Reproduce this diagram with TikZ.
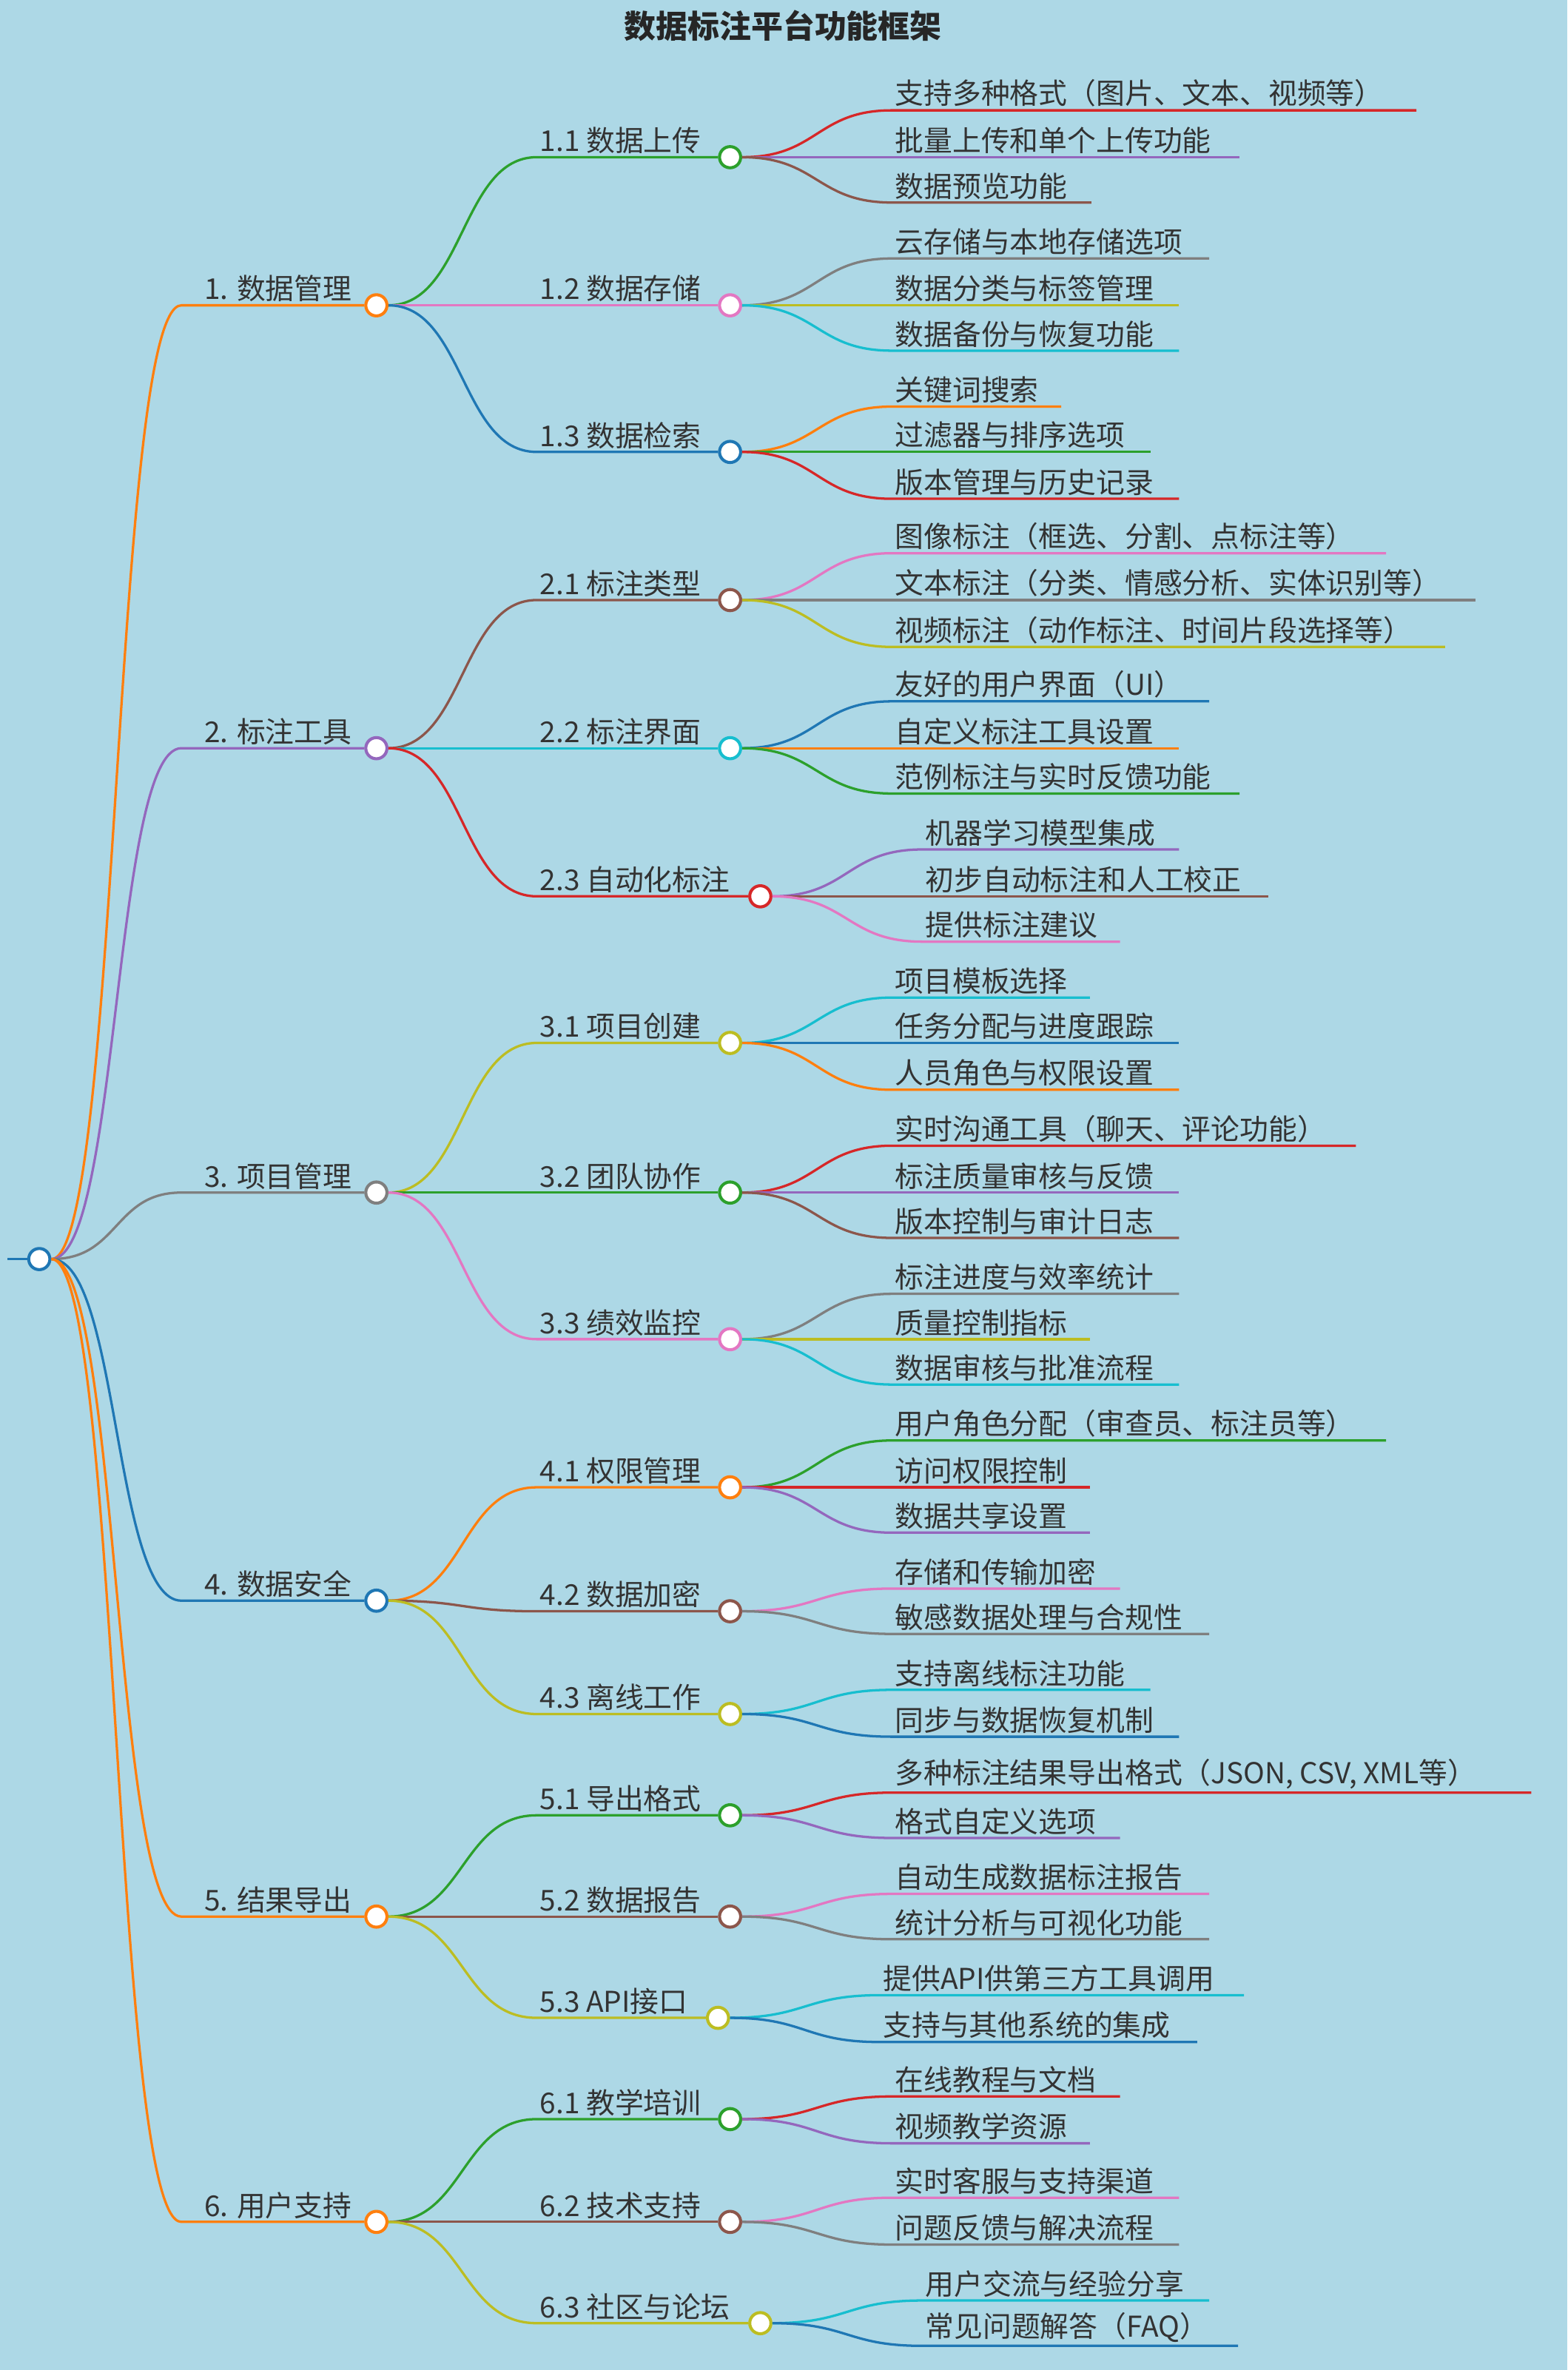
\documentclass[tikz,border=0pt]{standalone}
\usepackage{fontspec}
\setmainfont{Noto Sans CJK SC}
\usetikzlibrary{calc}
\definecolor{mmBlue}{HTML}{1F77B4}
\definecolor{mmOrange}{HTML}{FF7F0E}
\definecolor{mmGreen}{HTML}{2CA02C}
\definecolor{mmRed}{HTML}{D62728}
\definecolor{mmPurple}{HTML}{9467BD}
\definecolor{mmBrown}{HTML}{8C564B}
\definecolor{mmPink}{HTML}{E377C2}
\definecolor{mmGray}{HTML}{7F7F7F}
\definecolor{mmOlive}{HTML}{BCBD22}
\definecolor{mmCyan}{HTML}{17BECF}
\definecolor{mmBack}{HTML}{ADD8E6}
\tikzset{
  edge/.style={draw=#1,line width=1.6pt},
  dot/.style={circle,draw=#1,fill=white,line width=2pt,minimum size=14pt,inner sep=0pt},
  lbl/.style={anchor=south west,inner sep=2pt,text=black!80,font=\fontsize{19}{23}\selectfont}
}
% level 2 node: name, parent, circle x, y, colour, label
\newcommand\mmbranch[6]{%
  \node[dot=#5] (#1) at (#3,#4) {};
  \draw[edge=#5] (#2.east) .. controls +(50,0) and +(-50,0) .. (355,#4) -- (#1.west);
  \node[lbl] (#1t) at (355,#4) {#6};
}
% leaf: parent, start x, y, end x, colour, text
\newcommand\mmleaf[6]{%
  \draw[edge=#5] (#1.east) .. controls +(50,0) and +(-50,0) .. (#2,#3) -- (#4,#3);
  \node[lbl] at (#2,#3) {#6};
}
\begin{document}
\begin{tikzpicture}[x=1pt,y=-1pt]
\fill[mmBack] (0,0) rectangle (1037,1568);
\useasboundingbox (0,0) rectangle (1037,1568);
\node[font=\fontsize{21}{25}\selectfont\bfseries,text=black!85] (title) at (518,17) {数据标注平台功能框架};

\node[dot=mmBlue] (root) at (26,833) {};
\coordinate (in) at (5,833);
\draw[edge=mmBlue] (in) -- (root.west);

\foreach \n/\y/\c/\t in {n1/202/mmOrange/1. 数据管理, n2/495/mmPurple/2. 标注工具,
  n3/789/mmGray/3. 项目管理, n4/1059/mmBlue/4. 数据安全,
  n5/1268/mmOrange/5. 结果导出, n6/1470/mmOrange/6. 用户支持} {
  \node[dot=\c] (\n) at (249,\y) {};
  \draw[edge=\c] (root.east) .. controls +(45,0) and +(-45,0) .. (120,\y) -- (\n.west);
  \node[lbl] (\n t) at (133,\y) {\t};
}

% 1
\mmbranch{n11}{n1}{483}{104}{mmGreen}{1.1 数据上传}
\mmbranch{n12}{n1}{483}{202}{mmPink}{1.2 数据存储}
\mmbranch{n13}{n1}{483}{299}{mmBlue}{1.3 数据检索}
\mmleaf{n11}{590}{73}{937}{mmRed}{支持多种格式（图片、文本、视频等）}
\mmleaf{n11}{590}{104}{820}{mmPurple}{批量上传和单个上传功能}
\mmleaf{n11}{590}{134}{722}{mmBrown}{数据预览功能}
\mmleaf{n12}{590}{171}{800}{mmGray}{云存储与本地存储选项}
\mmleaf{n12}{590}{202}{780}{mmOlive}{数据分类与标签管理}
\mmleaf{n12}{590}{232}{780}{mmCyan}{数据备份与恢复功能}
\mmleaf{n13}{590}{269}{702}{mmOrange}{关键词搜索}
\mmleaf{n13}{590}{299}{761}{mmGreen}{过滤器与排序选项}
\mmleaf{n13}{590}{330}{780}{mmRed}{版本管理与历史记录}
% 2
\mmbranch{n21}{n2}{483}{397}{mmBrown}{2.1 标注类型}
\mmbranch{n22}{n2}{483}{495}{mmCyan}{2.2 标注界面}
\mmbranch{n23}{n2}{503}{593}{mmRed}{2.3 自动化标注}
\mmleaf{n21}{590}{366}{917}{mmPink}{图像标注（框选、分割、点标注等）}
\mmleaf{n21}{590}{397}{976}{mmGray}{文本标注（分类、情感分析、实体识别等）}
\mmleaf{n21}{590}{428}{956}{mmOlive}{视频标注（动作标注、时间片段选择等）}
\mmleaf{n22}{590}{464}{800}{mmBlue}{友好的用户界面（UI）}
\mmleaf{n22}{590}{495}{780}{mmOrange}{自定义标注工具设置}
\mmleaf{n22}{590}{525}{820}{mmGreen}{范例标注与实时反馈功能}
\mmleaf{n23}{610}{562}{780}{mmPurple}{机器学习模型集成}
\mmleaf{n23}{610}{593}{839}{mmBrown}{初步自动标注和人工校正}
\mmleaf{n23}{610}{623}{741}{mmPink}{提供标注建议}
% 3
\mmbranch{n31}{n3}{483}{690}{mmOlive}{3.1 项目创建}
\mmbranch{n32}{n3}{483}{789}{mmGreen}{3.2 团队协作}
\mmbranch{n33}{n3}{483}{886}{mmPink}{3.3 绩效监控}
\mmleaf{n31}{590}{660}{721}{mmCyan}{项目模板选择}
\mmleaf{n31}{590}{690}{780}{mmBlue}{任务分配与进度跟踪}
\mmleaf{n31}{590}{721}{780}{mmOrange}{人员角色与权限设置}
\mmleaf{n32}{590}{758}{897}{mmRed}{实时沟通工具（聊天、评论功能）}
\mmleaf{n32}{590}{789}{780}{mmPurple}{标注质量审核与反馈}
\mmleaf{n32}{590}{819}{780}{mmBrown}{版本控制与审计日志}
\mmleaf{n33}{590}{856}{780}{mmGray}{标注进度与效率统计}
\mmleaf{n33}{590}{886}{721}{mmOlive}{质量控制指标}
\mmleaf{n33}{590}{916}{780}{mmCyan}{数据审核与批准流程}
% 4
\mmbranch{n41}{n4}{483}{984}{mmOrange}{4.1 权限管理}
\mmbranch{n42}{n4}{483}{1066}{mmBrown}{4.2 数据加密}
\mmbranch{n43}{n4}{483}{1134}{mmOlive}{4.3 离线工作}
\mmleaf{n41}{590}{953}{917}{mmGreen}{用户角色分配（审查员、标注员等）}
\mmleaf{n41}{590}{984}{721}{mmRed}{访问权限控制}
\mmleaf{n41}{590}{1014}{721}{mmPurple}{数据共享设置}
\mmleaf{n42}{590}{1051}{741}{mmPink}{存储和传输加密}
\mmleaf{n42}{590}{1081}{800}{mmGray}{敏感数据处理与合规性}
\mmleaf{n43}{590}{1118}{761}{mmCyan}{支持离线标注功能}
\mmleaf{n43}{590}{1149}{780}{mmBlue}{同步与数据恢复机制}
% 5
\mmbranch{n51}{n5}{483}{1201}{mmGreen}{5.1 导出格式}
\mmbranch{n52}{n5}{483}{1268}{mmBrown}{5.2 数据报告}
\mmbranch{n53}{n5}{475}{1335}{mmOlive}{5.3 API接口}
\mmleaf{n51}{590}{1186}{1013}{mmRed}{多种标注结果导出格式（JSON, CSV, XML等）}
\mmleaf{n51}{590}{1216}{741}{mmPurple}{格式自定义选项}
\mmleaf{n52}{590}{1253}{800}{mmPink}{自动生成数据标注报告}
\mmleaf{n52}{590}{1283}{800}{mmGray}{统计分析与可视化功能}
\mmleaf{n53}{582}{1320}{823}{mmCyan}{提供API供第三方工具调用}
\mmleaf{n53}{582}{1351}{792}{mmBlue}{支持与其他系统的集成}
% 6
\mmbranch{n61}{n6}{483}{1402}{mmGreen}{6.1 教学培训}
\mmbranch{n62}{n6}{483}{1470}{mmBrown}{6.2 技术支持}
\mmbranch{n63}{n6}{503}{1537}{mmOlive}{6.3 社区与论坛}
\mmleaf{n61}{590}{1387}{741}{mmRed}{在线教程与文档}
\mmleaf{n61}{590}{1418}{721}{mmPurple}{视频教学资源}
\mmleaf{n62}{590}{1454}{780}{mmPink}{实时客服与支持渠道}
\mmleaf{n62}{590}{1485}{780}{mmGray}{问题反馈与解决流程}
\mmleaf{n63}{610}{1522}{800}{mmCyan}{用户交流与经验分享}
\mmleaf{n63}{610}{1552}{819}{mmBlue}{常见问题解答（FAQ）}
\end{tikzpicture}
\end{document}
